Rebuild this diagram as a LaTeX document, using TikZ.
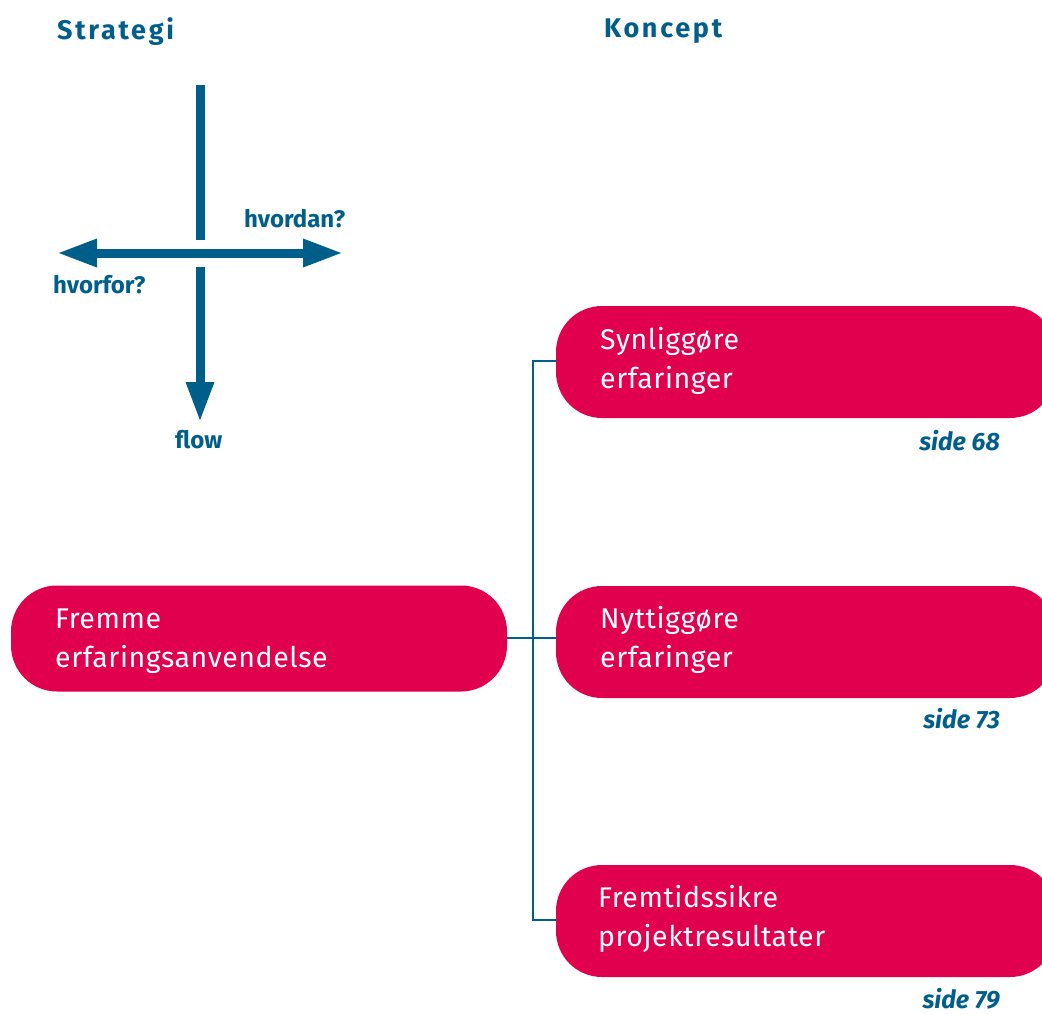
\documentclass[tikz,border=0pt]{standalone}
\usepackage{fontspec}
\setmainfont{Fira Sans}
\usetikzlibrary{arrows.meta}
\definecolor{navy}{HTML}{005E8A}
\definecolor{crimson}{HTML}{E0004D}
\tikzset{
  box/.style={fill=crimson, draw=none, rounded corners=46pt, inner sep=0pt},
  boxtext/.style={text=white, anchor=base west, inner sep=0pt, align=left, font=\fontsize{28.5}{39}\selectfont\addfontfeatures{LetterSpace=2}},
  head/.style={text=navy, anchor=base west, inner sep=0pt, font=\fontsize{27}{30}\selectfont\bfseries\addfontfeatures{LetterSpace=10}},
  lbl/.style={text=navy, anchor=base west, inner sep=0pt, font=\fontsize{24}{28}\selectfont\bfseries},
  page/.style={text=navy, anchor=base east, inner sep=0pt, font=\fontsize{25}{28}\selectfont\bfseries\itshape},
  thick arrow/.style={draw=navy, line width=9pt, -{Triangle[length=40pt,width=26pt]}},
  conn/.style={draw=navy, line width=2pt},
}
\begin{document}
\begin{tikzpicture}[x=1pt,y=-1pt]
\useasboundingbox (0,0) rectangle (1042,1014);
\clip (0,0) rectangle (1042,1014);
% headings
\node[head] (strat) at (57,40) {Strategi};
\node[head] (konc) at (604,38) {Koncept};
% cross of arrows
\coordinate (vtop) at (200,85);
\coordinate (vmid) at (200,240);
\coordinate (vlow) at (200,267);
\coordinate (vend) at (200,422);
\coordinate (hl) at (57,253);
\coordinate (hr) at (343,253);
\draw[draw=navy, line width=9pt] (vtop) -- (vmid);
\draw[thick arrow] (vlow) -- (vend);
\draw[thick arrow, {Triangle[length=40pt,width=26pt]}-{Triangle[length=40pt,width=26pt]}] (hl) -- (hr);
\node[lbl] (hvordan) at (244,227) {hvordan?};
\node[lbl] (hvorfor) at (53,293) {hvorfor?};
\node[lbl] (flow) at (175,448) {flow};
% boxes
\node[box, minimum width=496pt, minimum height=106pt] (main) at (259,638.5) {};
\node[box, minimum width=500pt, minimum height=112pt] (b1) at (806,362) {};
\node[box, minimum width=500pt, minimum height=112pt] (b2) at (806,642) {};
\node[box, minimum width=500pt, minimum height=112pt] (b3) at (806,921) {};
\node[boxtext] (tmain) at (55,667) {Fremme\\erfaringsanvendelse};
\node[boxtext] (t1) at (600,388) {Synliggøre\\erfaringer};
\node[boxtext] (t2) at (600,667) {Nyttiggøre\\erfaringer};
\node[boxtext] (t3) at (598,946) {Fremtidssikre\\projektresultater};
\node[page] (p1) at (1000,450) {side 68};
\node[page] (p2) at (1000,728) {side 73};
\node[page] (p3) at (1000,1008) {side 79};
% connectors
\coordinate (j) at (533,638);
\draw[conn] (main.east |- j) -- (j);
\draw[conn] (j) -- (b2.west |- j);
\draw[conn] (b1.west |- 0,361) -| (533,920) -- (b3.west |- 0,920);
\end{tikzpicture}
\end{document}
